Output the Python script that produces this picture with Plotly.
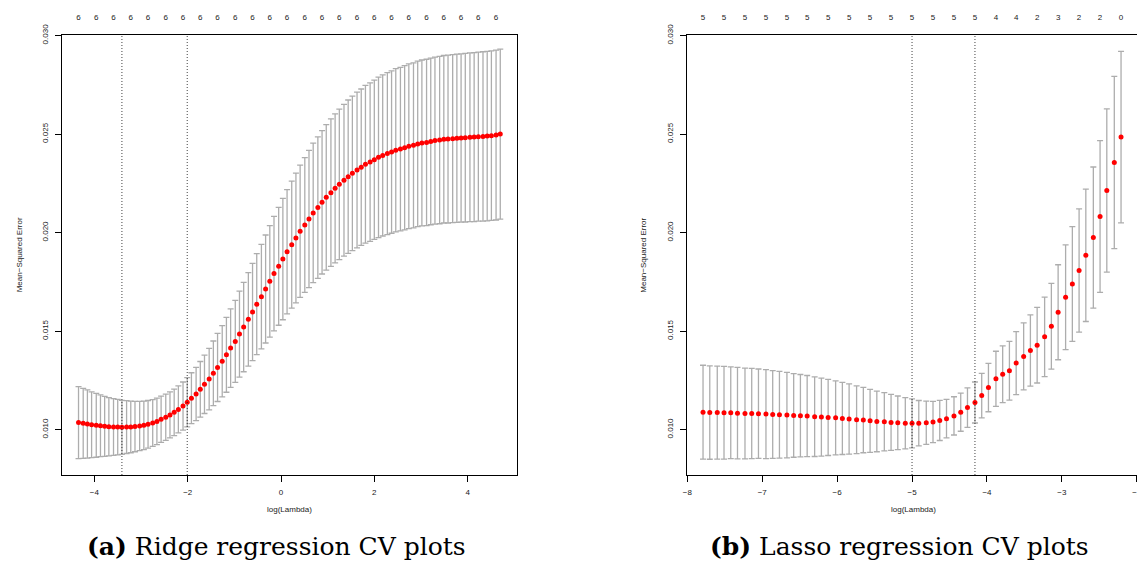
import plotly.graph_objects as go

# ---------------- Ridge regression CV data ----------------
ridge_log_lambda = [
    -4.34, -4.24, -4.15, -4.06, -3.96, -3.87, -3.78, -3.69, -3.59, -3.50,
    -3.41, -3.31, -3.22, -3.13, -3.03, -2.94, -2.85, -2.75, -2.66, -2.57,
    -2.47, -2.38, -2.29, -2.20, -2.10, -2.01, -1.92, -1.82, -1.73, -1.64,
    -1.54, -1.45, -1.36, -1.26, -1.17, -1.08, -0.98, -0.89, -0.80, -0.70,
    -0.61, -0.52, -0.42, -0.33, -0.24, -0.15, -0.05, 0.04, 0.13, 0.23,
    0.32, 0.41, 0.51, 0.60, 0.69, 0.79, 0.88, 0.97, 1.07, 1.16,
    1.25, 1.35, 1.44, 1.53, 1.63, 1.72, 1.81, 1.91, 2.00, 2.09,
    2.18, 2.28, 2.37, 2.46, 2.56, 2.65, 2.74, 2.84, 2.93, 3.02,
    3.12, 3.21, 3.30, 3.40, 3.49, 3.58, 3.68, 3.77, 3.86, 3.95,
    4.05, 4.14, 4.23, 4.33, 4.42, 4.51, 4.61, 4.70,
]
ridge_cvm = [
    0.01036, 0.01032, 0.01029, 0.01025, 0.01022, 0.01020, 0.01017, 0.01015, 0.01014, 0.01013,
    0.01012, 0.01013, 0.01014, 0.01016, 0.01019, 0.01022, 0.01027, 0.01034, 0.01042, 0.01053,
    0.01063, 0.01075, 0.01088, 0.01103, 0.01120, 0.01139, 0.01160, 0.01181, 0.01205, 0.01230,
    0.01257, 0.01286, 0.01316, 0.01347, 0.01380, 0.01414, 0.01448, 0.01485, 0.01521, 0.01560,
    0.01597, 0.01637, 0.01675, 0.01714, 0.01753, 0.01792, 0.01829, 0.01866, 0.01903, 0.01939,
    0.01973, 0.02007, 0.02039, 0.02069, 0.02100, 0.02127, 0.02154, 0.02179, 0.02203, 0.02225,
    0.02245, 0.02266, 0.02284, 0.02301, 0.02318, 0.02332, 0.02347, 0.02358, 0.02370, 0.02382,
    0.02392, 0.02401, 0.02409, 0.02418, 0.02424, 0.02431, 0.02438, 0.02443, 0.02450, 0.02455,
    0.02458, 0.02463, 0.02467, 0.02470, 0.02474, 0.02475, 0.02477, 0.02479, 0.02480, 0.02482,
    0.02484, 0.02485, 0.02487, 0.02488, 0.02490, 0.02492, 0.02495, 0.02500,
]
ridge_cvsd = [
    0.00183, 0.00178, 0.00173, 0.00167, 0.00162, 0.00157, 0.00152, 0.00148, 0.00144, 0.00141,
    0.00137, 0.00134, 0.00131, 0.00128, 0.00125, 0.00123, 0.00121, 0.00119, 0.00118, 0.00117,
    0.00117, 0.00117, 0.00118, 0.00119, 0.00122, 0.00125, 0.00129, 0.00135, 0.00141, 0.00148,
    0.00156, 0.00164, 0.00173, 0.00181, 0.00190, 0.00199, 0.00208, 0.00218, 0.00227, 0.00237,
    0.00247, 0.00256, 0.00265, 0.00274, 0.00283, 0.00291, 0.00299, 0.00308, 0.00315, 0.00322,
    0.00329, 0.00336, 0.00342, 0.00348, 0.00354, 0.00359, 0.00364, 0.00369, 0.00374, 0.00378,
    0.00382, 0.00385, 0.00389, 0.00392, 0.00395, 0.00397, 0.00400, 0.00402, 0.00404, 0.00407,
    0.00409, 0.00411, 0.00412, 0.00414, 0.00415, 0.00417, 0.00418, 0.00419, 0.00420, 0.00421,
    0.00422, 0.00423, 0.00424, 0.00425, 0.00425, 0.00426, 0.00426, 0.00427, 0.00427, 0.00428,
    0.00428, 0.00429, 0.00429, 0.00430, 0.00430, 0.00430, 0.00431, 0.00431,
]
ridge_vlines = [-3.41, -2.01]          # lambda.min, lambda.1se (log scale)
ridge_top_pos = [-4.34, -3.96, -3.59, -3.22, -2.85, -2.47, -2.10, -1.73, -1.36,
                 -0.98, -0.61, -0.24, 0.13, 0.51, 0.88, 1.25, 1.63, 2.00, 2.37,
                 2.74, 3.12, 3.49, 3.86, 4.23, 4.61]
ridge_top_lab = ["6"] * 25

# ---------------- Lasso regression CV data ----------------
lasso_log_lambda = [
    -7.79, -7.70, -7.60, -7.51, -7.42, -7.33, -7.23, -7.14, -7.05, -6.95,
    -6.86, -6.77, -6.67, -6.58, -6.49, -6.40, -6.30, -6.21, -6.12, -6.02,
    -5.93, -5.84, -5.74, -5.65, -5.56, -5.47, -5.37, -5.28, -5.19, -5.09,
    -5.00, -4.91, -4.81, -4.72, -4.63, -4.54, -4.44, -4.35, -4.26, -4.16,
    -4.07, -3.98, -3.88, -3.79, -3.70, -3.61, -3.51, -3.42, -3.33, -3.23,
    -3.14, -3.05, -2.95, -2.86, -2.77, -2.68, -2.58, -2.49, -2.40, -2.30,
    -2.21,
]
lasso_cvm = [
    0.01089, 0.01087, 0.01087, 0.01086, 0.01086, 0.01084, 0.01082, 0.01082, 0.01081, 0.01079,
    0.01077, 0.01076, 0.01074, 0.01072, 0.01071, 0.01069, 0.01066, 0.01064, 0.01062, 0.01060,
    0.01057, 0.01054, 0.01050, 0.01049, 0.01045, 0.01042, 0.01040, 0.01037, 0.01035, 0.01033,
    0.01032, 0.01033, 0.01035, 0.01039, 0.01047, 0.01056, 0.01070, 0.01089, 0.01112, 0.01138,
    0.01173, 0.01214, 0.01258, 0.01281, 0.01299, 0.01338, 0.01372, 0.01402, 0.01429, 0.01471,
    0.01525, 0.01596, 0.01672, 0.01739, 0.01808, 0.01885, 0.01975, 0.02082, 0.02214, 0.02356,
    0.02485,
]
lasso_cvsd = [
    0.00238, 0.00237, 0.00236, 0.00235, 0.00233, 0.00232, 0.00230, 0.00229, 0.00227, 0.00226,
    0.00223, 0.00220, 0.00217, 0.00212, 0.00209, 0.00206, 0.00202, 0.00198, 0.00193, 0.00188,
    0.00183, 0.00178, 0.00172, 0.00166, 0.00160, 0.00154, 0.00148, 0.00142, 0.00136, 0.00130,
    0.00124, 0.00115, 0.00110, 0.00105, 0.00102, 0.00098, 0.00097, 0.00097, 0.00100, 0.00104,
    0.00113, 0.00123, 0.00140, 0.00144, 0.00149, 0.00160, 0.00170, 0.00181, 0.00192, 0.00202,
    0.00218, 0.00241, 0.00266, 0.00291, 0.00313, 0.00336, 0.00358, 0.00385, 0.00414, 0.00437,
    0.00435,
]
lasso_vlines = [-5.00, -4.16]
lasso_top_pos = [-7.79, -7.51, -7.23, -6.95, -6.67, -6.40, -6.12, -5.84, -5.56, -5.28,
                 -5.00, -4.72, -4.44, -4.16, -3.88, -3.61, -3.33, -3.05, -2.77, -2.49, -2.21]
lasso_top_lab = ["5", "5", "5", "5", "5", "5", "5", "5", "5", "5",
                 "5", "5", "5", "5", "4", "4", "2", "3", "2", "2", "0"]

y_ticks = [0.010, 0.015, 0.020, 0.025, 0.030]
x_ticks_ridge = [-4, -2, 0, 2, 4]
x_ticks_lasso = [-8, -7, -6, -5, -4, -3, -2]
captions = ["<b>(a)</b> Ridge regression CV plots", "<b>(b)</b> Lasso regression CV plots"]

# ---------------- figure ----------------
W, H = 1137, 572
FONT = "Liberation Sans"
TXT = "#1a1a1a"
ERR = "#adadad"

def px(v, total):
    return v / total

fig = go.Figure()

fig.add_trace(go.Scatter(
    x=ridge_log_lambda, y=ridge_cvm, mode="markers",
    marker=dict(color="red", size=5, line=dict(width=0)),
    error_y=dict(type="data", array=ridge_cvsd, color=ERR, thickness=1.3, width=3),
    xaxis="x", yaxis="y", showlegend=False, hoverinfo="skip"))

fig.add_trace(go.Scatter(
    x=lasso_log_lambda, y=lasso_cvm, mode="markers",
    marker=dict(color="red", size=5, line=dict(width=0)),
    error_y=dict(type="data", array=lasso_cvsd, color=ERR, thickness=1.3, width=3),
    xaxis="x2", yaxis="y2", showlegend=False, hoverinfo="skip"))

# invisible traces for the top (number of nonzero coefficients) axes
fig.add_trace(go.Scatter(x=ridge_top_pos, y=[None] * len(ridge_top_pos), mode="markers",
                         xaxis="x3", yaxis="y", showlegend=False, hoverinfo="skip"))
fig.add_trace(go.Scatter(x=lasso_top_pos, y=[None] * len(lasso_top_pos), mode="markers",
                         xaxis="x4", yaxis="y2", showlegend=False, hoverinfo="skip"))

ridge_dom = [px(62.3, W), px(516.5, W)]
lasso_dom = [px(686.7, W), 1.0]
y_dom = [1 - px(475, H), 1 - px(35, H)]
ridge_xr = [-4.688, 5.048]
lasso_xr = [-8.008, -1.997]
yr = [0.0077, 0.03003]

axis_common = dict(showgrid=False, zeroline=False, showline=True, linecolor="black",
                   linewidth=1, ticks="outside", ticklen=6, tickwidth=1, tickcolor="black",
                   automargin=False,
                   tickfont=dict(family=FONT, size=8, color=TXT))

top_common = dict(showgrid=False, zeroline=False, showline=False, side="top",
                  ticks="", ticklabelstandoff=12, automargin=False,
                  tickfont=dict(family=FONT, size=8, color=TXT), tickmode="array")

fig.update_layout(
    width=W, height=H, autosize=False,
    margin=dict(l=0, r=0, t=0, b=0, pad=0, autoexpand=False),
    paper_bgcolor="white", plot_bgcolor="white",
    xaxis=dict(domain=ridge_dom, range=ridge_xr, anchor="y", mirror=True,
               tickmode="array", tickvals=x_ticks_ridge, ticklabelstandoff=3, **axis_common),
    yaxis=dict(domain=y_dom, range=yr, anchor="x", mirror=True, tickangle=-90,
               tickmode="array", tickvals=y_ticks, tickformat=".3f",
               ticklabelstandoff=4, **axis_common),
    xaxis2=dict(domain=lasso_dom, range=lasso_xr, anchor="y2", mirror=True,
                tickmode="array", tickvals=x_ticks_lasso, ticklabelstandoff=3,
                tickformat="d", ticklabeloverflow="allow", **axis_common),
    yaxis2=dict(domain=y_dom, range=yr, anchor="x2", mirror=False, tickangle=-90,
                tickmode="array", tickvals=y_ticks, tickformat=".3f",
                ticklabelstandoff=4, **axis_common),
    xaxis3=dict(overlaying="x", anchor="y", range=ridge_xr,
                tickvals=ridge_top_pos, ticktext=ridge_top_lab, **top_common),
    xaxis4=dict(overlaying="x2", anchor="y2", range=lasso_xr,
                tickvals=lasso_top_pos, ticktext=lasso_top_lab, **top_common),
)

vline_style = dict(color="#111111", width=0.8, dash="1px,2px")
for v in ridge_vlines:
    fig.add_vline(x=v, line=vline_style, xref="x", yref="y")
for v in lasso_vlines:
    fig.add_vline(x=v, line=vline_style, xref="x2", yref="y2")

ann_font = dict(family=FONT, size=8, color=TXT)
# axis titles
fig.add_annotation(text="log(Lambda)", x=(ridge_dom[0] + ridge_dom[1]) / 2, y=1 - px(509, H),
                   xref="paper", yref="paper", showarrow=False, font=ann_font,
                   xanchor="center", yanchor="middle")
fig.add_annotation(text="log(Lambda)", x=px(913.5, W), y=1 - px(509, H),
                   xref="paper", yref="paper", showarrow=False, font=ann_font,
                   xanchor="center", yanchor="middle")
fig.add_annotation(text="Mean\u2212Squared Error", x=px(19.3, W), y=1 - px(255, H),
                   xref="paper", yref="paper", showarrow=False, font=ann_font, textangle=-90,
                   xanchor="center", yanchor="middle")
fig.add_annotation(text="Mean\u2212Squared Error", x=px(642.7, W), y=1 - px(255, H),
                   xref="paper", yref="paper", showarrow=False, font=ann_font, textangle=-90,
                   xanchor="center", yanchor="middle")

# captions
cap_font = dict(family="DejaVu Serif", size=25, color="black")
fig.add_annotation(text=captions[0], x=px(276, W), y=1 - px(546, H), xref="paper", yref="paper",
                   showarrow=False, font=cap_font, xanchor="center", yanchor="middle")
fig.add_annotation(text=captions[1], x=px(899, W), y=1 - px(546, H), xref="paper", yref="paper",
                   showarrow=False, font=cap_font, xanchor="center", yanchor="middle")

fig.write_html("out.html", config={"displayModeBar": False},
               post_script="document.body.style.margin='0';document.body.style.overflow='hidden';")
